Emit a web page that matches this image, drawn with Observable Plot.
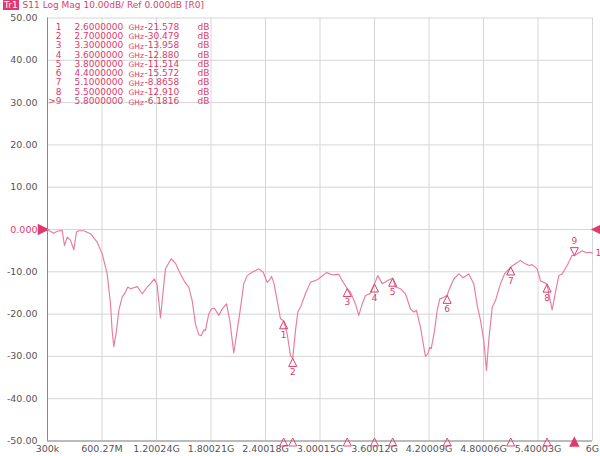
<!DOCTYPE html>
<html>
<head>
<meta charset="utf-8">
<script src="https://cdn.jsdelivr.net/npm/d3@7"></script>
<script src="https://cdn.jsdelivr.net/npm/@observablehq/plot@0.6"></script>
<style>
  html, body { margin: 0; padding: 0; background: #fff; }
  #wrap { position: relative; width: 600px; height: 456px; }
  #title { position: absolute; left: 3px; top: 0px; font-family: "DejaVu Sans", sans-serif; font-size: 9px; color: #d9406e; white-space: pre; line-height: 11px; }
  #title .tr { background: #e03a6c; color: #fff; padding: 0 1px; margin-right: 4px; }
</style>
</head>
<body>
<div id="wrap">
  <div id="chart"></div>
  <div id="title"><span class="tr">Tr1</span>S11 Log Mag 10.00dB/ Ref 0.000dB [R0]</div>
</div>
<script>
// Trace data (frequency in GHz, S11 in dB)
const freqGHz = [0.0003,0.069,0.107,0.162,0.187,0.217,0.253,0.290,0.319,0.345,0.400,0.473,0.547,0.602,0.657,0.694,0.712,0.730,0.760,0.785,0.822,0.859,0.884,0.914,0.988,1.043,1.098,1.134,1.178,1.208,1.244,1.274,1.299,1.362,1.409,1.464,1.519,1.556,1.593,1.629,1.666,1.692,1.721,1.739,1.776,1.805,1.838,1.886,1.923,1.971,2.007,2.051,2.088,2.125,2.161,2.199,2.254,2.326,2.375,2.419,2.444,2.466,2.491,2.529,2.565,2.600,2.639,2.675,2.700,2.730,2.756,2.785,2.840,2.895,2.969,3.005,3.072,3.134,3.207,3.244,3.300,3.336,3.391,3.427,3.465,3.501,3.556,3.600,3.636,3.685,3.740,3.800,3.831,3.886,3.941,3.996,4.033,4.062,4.106,4.143,4.161,4.187,4.209,4.224,4.261,4.290,4.319,4.363,4.400,4.418,4.473,4.528,4.576,4.638,4.693,4.731,4.767,4.803,4.833,4.858,4.896,4.932,4.987,5.031,5.100,5.152,5.207,5.251,5.299,5.336,5.391,5.427,5.464,5.500,5.519,5.556,5.593,5.629,5.666,5.721,5.776,5.800,5.887,5.934,5.978,6.000];
const s11dB = [0,-0.9,-0.4,-0.2,-3.8,-1.8,-2.5,-4.8,-0.6,-0.3,-0.3,-1.0,-3.0,-5.7,-10.5,-17.6,-23.9,-27.7,-23.9,-19.1,-16.0,-14.8,-13.6,-14.0,-13.5,-15.2,-13.6,-12.8,-11.7,-13.2,-20.9,-14.4,-9.3,-6.9,-8.0,-10.5,-12.7,-13.6,-16.8,-22.3,-24.9,-25.1,-23.7,-23.9,-19.9,-18.8,-18.6,-20.3,-18.8,-17.6,-21.5,-29.2,-23.9,-18.6,-12.8,-10.9,-10.1,-9.3,-10.1,-12.5,-11.9,-11.1,-12.5,-16.8,-21.1,-21.578,-24.7,-29.8,-30.479,-23.9,-19.5,-18.4,-15.2,-12.5,-11.9,-11.3,-10.2,-10.7,-10.6,-12.1,-13.958,-14.8,-17.6,-20.3,-17.6,-15.6,-15.1,-12.88,-10.9,-12.8,-12.1,-11.514,-13.6,-14.0,-15.2,-18.8,-19.5,-19.1,-23.1,-27.8,-30.0,-29.4,-27.8,-28.2,-23.9,-19.1,-16.4,-16.0,-15.572,-14.4,-11.7,-10.5,-11.4,-10.5,-12.8,-18.0,-21.5,-26.2,-33.3,-26.2,-18.4,-16.8,-12.8,-10.5,-8.8658,-8.1,-7.3,-8.0,-8.5,-8.3,-9.3,-12.1,-12.5,-12.91,-15.2,-19.0,-14.8,-10.9,-10.5,-8.5,-6.1,-6.1816,-5.0,-5.5,-5.4,-5.6];

// Markers
const markerNum = ["1","2","3","4","5","6","7","8","9"];
const markerLabel = ["1","2","3","4","5","6","7","8",">9"];
const markerFreqGHz = [2.6,2.7,3.3,3.6,3.8,4.4,5.1,5.5,5.8];
const markerDb = [-21.578,-30.479,-13.958,-12.88,-11.514,-15.572,-8.8658,-12.91,-6.1816];
const markerFreqText = ["2.6000000","2.7000000","3.3000000","3.6000000","3.8000000","4.4000000","5.1000000","5.5000000","5.8000000"];
const markerDbText = ["-21.578","-30.479","-13.958","-12.880","-11.514","-15.572","-8.8658","-12.910","-6.1816"];
const activeMarker = "9";

// Axes
const xTickValues = [0.0003,0.60027,1.20024,1.80021,2.40018,3.00015,3.60012,4.20009,4.80006,5.40003,6.0];
const xTickLabels = ["300k","600.27M","1.20024G","1.80021G","2.40018G","3.00015G","3.60012G","4.20009G","4.80006G","5.40003G","6G"];
const yTickValues = [50,40,30,20,10,0,-10,-20,-30,-40,-50];
const refLevelDb = 0;
const traceName = "1";

const red = "#e03a6c";
const traceColor = "#e87c9d";

const trace = freqGHz.map((f, i) => ({f, db: s11dB[i]}));
const markers = markerNum.map((n, i) => ({n, f: markerFreqGHz[i], db: markerDb[i]}));
const normalMarkers = markers.filter(m => m.n !== activeMarker);
const activeMarkers = markers.filter(m => m.n === activeMarker);
const xLabelMap = new Map(xTickValues.map((v, i) => [v, xTickLabels[i]]));

function tri(dir) {
  return {
    draw(ctx, size) {
      const r = Math.sqrt(size / Math.PI);
      const h = 2.5 * r, w = 1.25 * r;
      ctx.moveTo(0, 0);
      if (dir === "up") { ctx.lineTo(w, h); ctx.lineTo(-w, h); }
      else if (dir === "down") { ctx.lineTo(w, -h); ctx.lineTo(-w, -h); }
      else if (dir === "left") { ctx.lineTo(h, -w); ctx.lineTo(h, w); }
      else { ctx.lineTo(-h, -w); ctx.lineTo(-h, w); }
      ctx.closePath();
    }
  };
}

const fMin = xTickValues[0], fMax = xTickValues[xTickValues.length - 1];
const rowPx = 9.3;

const chart = Plot.plot({
  width: 600,
  height: 456,
  marginTop: 17.5,
  marginBottom: 15.5,
  marginLeft: 47,
  marginRight: 8,
  style: { fontFamily: "DejaVu Sans, sans-serif", fontSize: "9.5px", background: "#fff", overflow: "visible" },
  x: { domain: [fMin, fMax], axis: null },
  y: { domain: [-50, 50], axis: null },
  marks: [
    Plot.gridX(xTickValues, { stroke: "#d6d6d6", strokeOpacity: 1 }),
    Plot.gridY(yTickValues, { stroke: "#d6d6d6", strokeOpacity: 1 }),
    Plot.ruleX([fMin], { stroke: "#8a8a8a" }),
    Plot.ruleY([-50], { stroke: "#8a8a8a" }),
    Plot.axisX(xTickValues, { tickSize: 0, tickPadding: 4, tickFormat: d => xLabelMap.get(d), color: "#555", label: null }),
    Plot.axisY(yTickValues.filter(d => d !== refLevelDb), { tickSize: 0, tickPadding: 10, tickFormat: d => d.toFixed(2), color: "#555", label: null }),
    Plot.axisY([refLevelDb], { tickSize: 0, tickPadding: 10, tickFormat: () => "0.000", color: red, label: null }),
    // reference level triangles
    Plot.dot([refLevelDb], { y: d => d, frameAnchor: "left", symbol: tri("right"), r: 3.6, fill: red, stroke: red }),
    Plot.dot([refLevelDb], { y: d => d, frameAnchor: "right", symbol: tri("left"), r: 3.6, fill: red, stroke: red }),
    // trace
    Plot.line(trace, { x: "f", y: "db", stroke: traceColor, strokeWidth: 1.15 }),
    Plot.text([trace[trace.length - 1]], { x: "f", y: "db", text: () => traceName, dx: 3, textAnchor: "start", fill: red, fontSize: 9 }),
    // markers on trace
    Plot.dot(normalMarkers, { x: "f", y: "db", symbol: tri("up"), r: 3.2, stroke: red, fill: "none", strokeWidth: 1 }),
    Plot.text(normalMarkers, { x: "f", y: "db", text: "n", dy: 14, fill: red, fontSize: 9 }),
    Plot.dot(activeMarkers, { x: "f", y: "db", symbol: tri("down"), r: 3.2, stroke: red, fill: "white", strokeWidth: 1 }),
    Plot.text(activeMarkers, { x: "f", y: "db", text: "n", dy: -15, fill: red, fontSize: 9 }),
    // markers on the frequency axis
    Plot.dot(normalMarkers, { x: "f", frameAnchor: "bottom", dy: -3, symbol: tri("up"), r: 3.2, stroke: red, fill: "none", strokeWidth: 0.9 }),
    Plot.dot(activeMarkers, { x: "f", frameAnchor: "bottom", dy: -3, symbol: tri("up"), r: 3.2, stroke: red, fill: red }),
    // marker table
    Plot.text([markerLabel.join("\n")], { frameAnchor: "top-left", dx: 14, dy: 5, textAnchor: "end", lineHeight: rowPx / 9, fontSize: 9, fill: red }),
    Plot.text([markerFreqText.join("\n")], { frameAnchor: "top-left", dx: 27, dy: 5, textAnchor: "start", lineHeight: rowPx / 9, fontSize: 9, fill: red }),
    Plot.text([markerNum.map(() => "GHz").join("\n")], { frameAnchor: "top-left", dx: 81, dy: 5.5, textAnchor: "start", lineHeight: rowPx / 7.5, fontSize: 7.5, fill: red }),
    Plot.text([markerDbText.join("\n")], { frameAnchor: "top-left", dx: 97, dy: 5, textAnchor: "start", lineHeight: rowPx / 9, fontSize: 9, fill: red }),
    Plot.text([markerNum.map(() => "dB").join("\n")], { frameAnchor: "top-left", dx: 150, dy: 5, textAnchor: "start", lineHeight: rowPx / 9, fontSize: 9, fill: red })
  ]
});
document.getElementById("chart").appendChild(chart);
</script>
</body>
</html>
